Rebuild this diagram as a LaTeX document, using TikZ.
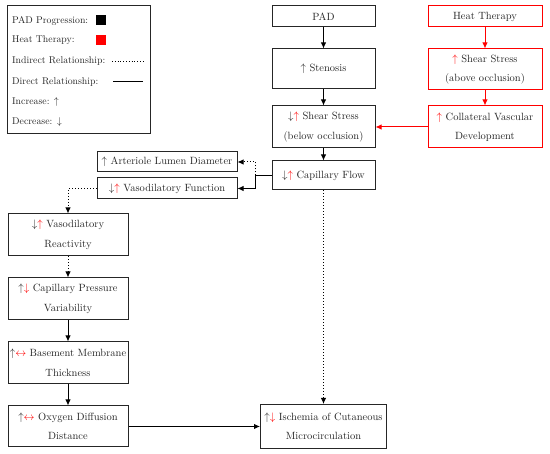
\documentclass[tikz,border=0pt]{standalone}
\usetikzlibrary{arrows.meta}
\definecolor{hred}{RGB}{255,0,0}
\newcommand{\ru}{\textcolor{hred}{$\uparrow$}}
\newcommand{\rd}{\textcolor{hred}{$\downarrow$}}
\newcommand{\rlr}{\textcolor{hred}{$\leftrightarrow$}}
\newcommand{\bu}{$\uparrow$}
\newcommand{\bd}{$\downarrow$}
\begin{document}
\begin{tikzpicture}[x=1pt,y=-1pt,
  box/.style={draw=black!85,line width=1pt,rectangle,align=center,inner sep=0pt,
    font=\fontsize{10.5}{19.5}\selectfont,text=black!85},
  rbox/.style={box,draw=hred},
  conn/.style={line width=1pt,-{Latex[length=6pt,width=5.5pt]}},
  dconn/.style={conn,dotted},
  lg/.style={anchor=west,inner sep=0pt,font=\fontsize{9.8}{12}\selectfont,text=black!85}]
\useasboundingbox (0,0) rectangle (550,454);
% legend
\node[draw=black!85,line width=1pt,minimum width=143pt,minimum height=128pt,anchor=north west,inner sep=0pt] (legend) at (7,5) {};
\node[lg] (l1) at (12,21) {PAD Progression:};
\node[fill=black,minimum width=10pt,minimum height=10pt,inner sep=0pt] (sqb) at (101,20) {};
\node[lg] (l2) at (12,40.5) {Heat Therapy:};
\node[fill=hred,minimum width=10pt,minimum height=10pt,inner sep=0pt] (sqr) at (101,40) {};
\node[lg] (l3) at (12,61.5) {Indirect Relationship:};
\coordinate (d1) at (112,61.5); \coordinate (d2) at (143,61.5);
\draw[dotted,line width=0.8pt] (d1) -- (d2);
\node[lg] (l4) at (12,82) {Direct Relationship:};
\coordinate (s1) at (113,82); \coordinate (s2) at (143,82);
\draw[line width=1pt] (s1) -- (s2);
\node[lg] (l5) at (12,102) {Increase: $\uparrow$};
\node[lg] (l6) at (12,122) {Decrease: $\downarrow$};
% PAD column
\node[box,minimum width=103pt,minimum height=21pt] (pad) at (323.5,16.5) {PAD};
\node[box,minimum width=103pt,minimum height=40pt] (sten) at (323.5,69) {\bu\ Stenosis};
\node[box,minimum width=103pt,minimum height=42pt] (shear) at (323.5,127) {\bd\ru\ Shear Stress\\(below occlusion)};
\node[box,minimum width=103pt,minimum height=29pt] (cap) at (323.5,175.5) {\bd\ru\ Capillary Flow};
% heat column
\node[rbox,minimum width=114pt,minimum height=21pt] (heat) at (485,16.5) {Heat Therapy};
\node[rbox,minimum width=114pt,minimum height=41pt] (shup) at (485,69.5) {\ru\ Shear Stress\\(above occlusion)};
\node[rbox,minimum width=114pt,minimum height=42pt] (coll) at (485,127) {\ru\ Collateral Vascular\\Development};
% middle
\node[box,minimum width=140pt,minimum height=20pt] (art) at (167,162) {\bu\ Arteriole Lumen Diameter};
\node[box,minimum width=140pt,minimum height=21pt] (vaso) at (167,188.5) {\bd\ru\ Vasodilatory Function};
% left column
\node[box,minimum width=120pt,minimum height=42pt] (react) at (68,235) {\bd\ru\ Vasodilatory\\Reactivity};
\node[box,minimum width=120pt,minimum height=42pt] (press) at (68,299) {\bu\rd\ Capillary Pressure\\Variability};
\node[box,minimum width=120pt,minimum height=42pt] (base) at (68,363) {\bu\rlr\ Basement Membrane\\Thickness};
\node[box,minimum width=120pt,minimum height=41pt] (oxy) at (68,426.5) {\bu\rlr\ Oxygen Diffusion\\Distance};
\node[box,minimum width=126pt,minimum height=44pt] (isch) at (323.5,426.5) {\bu\rd\ Ischemia of Cutaneous\\Microcirculation};
% connectors
\draw[conn] (pad) -- (sten);
\draw[conn] (sten) -- (shear);
\draw[conn] (shear) -- (cap);
\draw[conn,hred] (heat) -- (shup);
\draw[conn,hred] (shup) -- (coll);
\draw[conn,hred] (coll) -- (shear);
\coordinate (j) at (255,175.5);
\draw[line width=1pt] (cap.west) -- (j);
\draw[conn] (j) |- (vaso.east);
\draw[dconn] (j) |- (art.east);
\draw[dconn] (vaso.west) -| (react.north);
\draw[dconn] (react) -- (press);
\draw[conn] (press) -- (base);
\draw[conn] (base) -- (oxy);
\draw[conn] (oxy) -- (isch);
\draw[dconn] (cap) -- (isch);
\end{tikzpicture}
\end{document}
